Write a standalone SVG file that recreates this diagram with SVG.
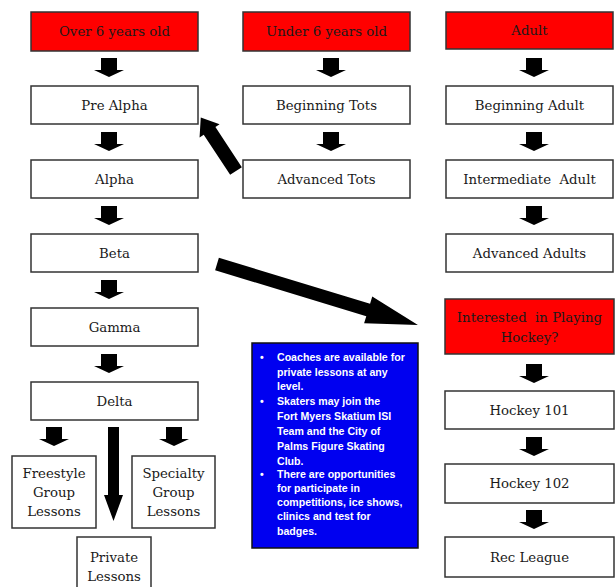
<svg xmlns="http://www.w3.org/2000/svg" xmlns:xlink="http://www.w3.org/1999/xlink" width="615" height="587" viewBox="0 0 615 587">
<style>
.box{fill:#fff;stroke:#333;stroke-width:1.5}
.red{fill:#ff0000;stroke:#333;stroke-width:1.5}
.t{font-family:"DejaVu Serif","Liberation Serif",serif;font-size:13.3px;fill:#1a1a1a;text-anchor:middle;dominant-baseline:central}
.blue{fill:#0000f0;stroke:#111;stroke-width:1.5}
.w{font-family:"Liberation Sans",Arial,sans-serif;font-size:10.6px;font-weight:bold;fill:#fff}
.arr{fill:#000}
</style>
<defs>
<path id="sa" d="M-8,0 H8 V12 H15 L0,19 L-15,12 H-8 Z"/>
</defs>
<rect width="615" height="587" fill="#fff"/>

<g id="over6"><rect class="red" x="31" y="12" width="167" height="39"/><text class="t" x="114.5" y="31.5">Over 6 years old</text></g>
<g id="prealpha"><rect class="box" x="31" y="86" width="167" height="38"/><text class="t" x="114.5" y="105">Pre Alpha</text></g>
<g id="alpha"><rect class="box" x="31" y="160" width="167" height="38"/><text class="t" x="114.5" y="179">Alpha</text></g>
<g id="beta"><rect class="box" x="31" y="234" width="167" height="38"/><text class="t" x="114.5" y="253">Beta</text></g>
<g id="gamma"><rect class="box" x="31" y="308" width="167" height="38"/><text class="t" x="114.5" y="327">Gamma</text></g>
<g id="delta"><rect class="box" x="31" y="382" width="167" height="38"/><text class="t" x="114.5" y="401">Delta</text></g>
<g id="freestyle"><rect class="box" x="12" y="456" width="84" height="72"/><text class="t" x="54" y="473">Freestyle</text><text class="t" x="54" y="492">Group</text><text class="t" x="54" y="511">Lessons</text></g>
<g id="specialty"><rect class="box" x="132" y="456" width="83" height="72"/><text class="t" x="173.5" y="473">Specialty</text><text class="t" x="173.5" y="492">Group</text><text class="t" x="173.5" y="511">Lessons</text></g>
<g id="private"><rect class="box" x="77" y="537" width="74" height="56"/><text class="t" x="114" y="557">Private</text><text class="t" x="114" y="576">Lessons</text></g>

<g id="under6"><rect class="red" x="243" y="12" width="167" height="39"/><text class="t" x="326.5" y="31.5">Under 6 years old</text></g>
<g id="begtots"><rect class="box" x="243" y="86" width="167" height="38"/><text class="t" x="326.5" y="105">Beginning Tots</text></g>
<g id="advtots"><rect class="box" x="243" y="160" width="167" height="38"/><text class="t" x="326.5" y="179">Advanced Tots</text></g>

<g id="adult"><rect class="red" x="446" y="12" width="167" height="37"/><text class="t" x="529.5" y="30.5">Adult</text></g>
<g id="begadult"><rect class="box" x="446" y="86" width="167" height="38"/><text class="t" x="529.5" y="105">Beginning Adult</text></g>
<g id="intadult"><rect class="box" x="446" y="160" width="167" height="38"/><text class="t" x="529.5" y="179" xml:space="preserve">Intermediate  Adult</text></g>
<g id="advadults"><rect class="box" x="446" y="234" width="167" height="38"/><text class="t" x="529.5" y="253">Advanced Adults</text></g>

<g id="hockeyq"><rect class="red" x="445" y="299" width="169" height="55"/><text class="t" x="529.5" y="317" xml:space="preserve">Interested  in Playing</text><text class="t" x="529.5" y="337">Hockey?</text></g>
<g id="hockey101"><rect class="box" x="445" y="391" width="169" height="38"/><text class="t" x="529.5" y="410">Hockey 101</text></g>
<g id="hockey102"><rect class="box" x="445" y="464" width="169" height="39"/><text class="t" x="529.5" y="483.5">Hockey 102</text></g>
<g id="recleague"><rect class="box" x="445" y="537" width="169" height="40"/><text class="t" x="529.5" y="557">Rec League</text></g>

<g id="notes">
<rect class="blue" x="252" y="343" width="166" height="205"/>
<g class="w">
<text x="260" y="361">•</text><text x="277" y="361">Coaches are available for</text>
<text x="277" y="376">private lessons at any</text>
<text x="277" y="390">level.</text>
<text x="260" y="405">•</text><text x="277" y="405">Skaters may join the</text>
<text x="277" y="420">Fort Myers Skatium ISI</text>
<text x="277" y="435">Team and the City of</text>
<text x="277" y="450">Palms Figure Skating</text>
<text x="277" y="465">Club.</text>
<text x="260" y="478">•</text><text x="277" y="478">There are opportunities</text>
<text x="277" y="492">for participate in</text>
<text x="277" y="506">competitions, ice shows,</text>
<text x="277" y="520">clinics and test for</text>
<text x="277" y="535">badges.</text>
</g>
</g>

<g id="connectors" class="arr">
<use xlink:href="#sa" x="109" y="58"/>
<use xlink:href="#sa" x="109" y="132"/>
<use xlink:href="#sa" x="109" y="206"/>
<use xlink:href="#sa" x="109" y="280"/>
<use xlink:href="#sa" x="109" y="354"/>
<use xlink:href="#sa" x="331" y="58"/>
<use xlink:href="#sa" x="331" y="132"/>
<use xlink:href="#sa" x="534" y="58"/>
<use xlink:href="#sa" x="534" y="132"/>
<use xlink:href="#sa" x="534" y="206"/>
<use xlink:href="#sa" x="534" y="364"/>
<use xlink:href="#sa" x="534" y="437"/>
<use xlink:href="#sa" x="534" y="510"/>
<use xlink:href="#sa" x="54" y="427"/>
<use xlink:href="#sa" x="174" y="427"/>
<path d="M108,427 H119 V495 H123 L113.5,521 L104,495 H108 Z"/>
<path transform="translate(236,171) rotate(-123.4)" d="M0,-7 H48 V-12 L64,0 L48,12 V7 H0 Z"/>
<path transform="translate(217,264) rotate(16.9)" d="M0,-6.5 H158 V-14 L210,0 L158,14 V6.5 H0 Z"/>
</g>
</svg>
